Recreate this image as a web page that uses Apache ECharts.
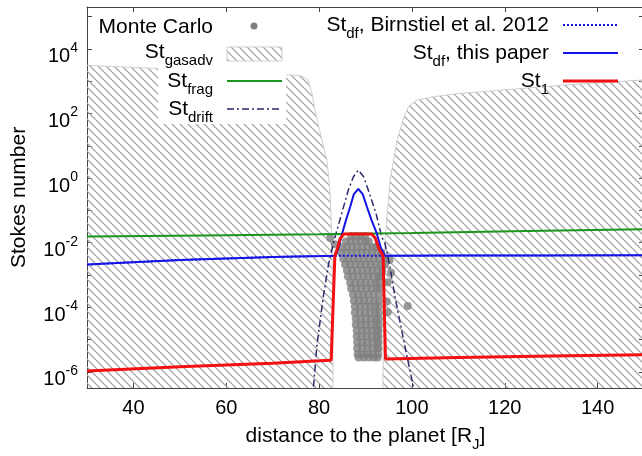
<!DOCTYPE html>
<html>
<head>
<meta charset="utf-8">
<script src="https://cdn.jsdelivr.net/npm/echarts@6/dist/echarts.min.js"></script>
<style>
  html, body { margin: 0; padding: 0; background: #fff; }
  #chart { width: 642px; height: 456px; }
</style>
</head>
<body>
<div id="chart"></div>
<script>
var FONT = '"Liberation Sans", Arial, Helvetica, sans-serif';
var Y_MIN = Math.pow(10, -6.5);
var Y_MAX = Math.pow(10, 5.3);

// ticks
var xTicks = [40, 60, 80, 100, 120, 140];
var yTicks = [1e-6, 1e-5, 1e-4, 1e-3, 1e-2, 1e-1, 1, 10, 100, 1e3, 1e4, 1e5];
var yLabels = [1e-6, 1e-4, 1e-2, 1, 100, 1e4];

// St_gasadv hatched regions (upper boundary, filled down to the axis)
var gasadvLeft = [[30, 3100], [54, 2200], [76, 1500], [77.6, 1100], [78.5, 400], [79.3, 100],
  [80.6, 15], [81.7, 3.6], [82.3, 0.5], [82.6, 0.05], [82.8, 5e-3], [83.0, 1e-5], [83.0, 3.2e-7]];
var gasadvRight = [[93.75, 3.2e-7], [93.85, 1.7e-4], [94.2, 0.012], [95.3, 0.87], [96.8, 15],
  [98.3, 80], [99.3, 170], [101, 260], [104, 320], [110, 420], [119, 525], [132, 750], [150, 1100]];

// Monte Carlo particles
var monteCarlo = [
  [86.9, 0.016], [88.0, 0.016], [89.0, 0.016], [89.9, 0.016], [82.4, 0.014], [83.4, 0.009],
  [85.8, 0.011], [86.8, 0.011], [87.9, 0.011], [89.0, 0.011], [90.0, 0.011], [90.7, 0.011],
  [84.9, 0.0074], [86.0, 0.0074], [87.1, 0.0074], [88.2, 0.0074], [89.3, 0.0074], [90.4, 0.0074], [91.5, 0.0074], [92.3, 0.0074],
  [84.8, 0.0049], [85.9, 0.0049], [87.0, 0.0049], [88.1, 0.0049], [89.2, 0.0049], [90.3, 0.0049], [91.4, 0.0049], [92.5, 0.0049], [93.4, 0.0049],
  [85.2, 0.0032], [86.3, 0.0032], [87.4, 0.0032], [88.5, 0.0032], [89.6, 0.0032], [90.7, 0.0032], [91.8, 0.0032], [92.9, 0.0032], [94.1, 0.0032], [95.2, 0.0029],
  [85.6, 0.0021], [86.7, 0.0021], [87.8, 0.0021], [88.9, 0.0021], [90.0, 0.0021], [91.1, 0.0021], [92.2, 0.0021], [93.3, 0.0021], [94.2, 0.0021],
  [86.0, 0.00137], [87.1, 0.00137], [88.2, 0.00137], [89.3, 0.00137], [90.4, 0.00137], [91.5, 0.00137], [92.6, 0.00137], [93.6, 0.00137], [95.5, 0.0012],
  [86.2, 9e-4], [87.3, 9e-4], [88.4, 9e-4], [89.5, 9e-4], [90.6, 9e-4], [91.7, 9e-4], [92.8, 9e-4], [93.1, 9e-4],
  [86.7, 5.8e-4], [87.8, 5.8e-4], [88.9, 5.8e-4], [90.0, 5.8e-4], [91.1, 5.8e-4], [92.2, 5.8e-4], [92.9, 5.8e-4], [94.8, 6e-4],
  [86.9, 3.8e-4], [88.0, 3.8e-4], [89.1, 3.8e-4], [90.2, 3.8e-4], [91.3, 3.8e-4], [92.4, 3.8e-4], [93.0, 3.8e-4],
  [87.3, 2.5e-4], [88.4, 2.5e-4], [89.5, 2.5e-4], [90.6, 2.5e-4], [91.7, 2.5e-4], [92.9, 2.5e-4],
  [87.5, 1.6e-4], [88.6, 1.6e-4], [89.7, 1.6e-4], [90.8, 1.6e-4], [91.9, 1.6e-4], [92.9, 1.6e-4], [94.6, 1.5e-4], [99.1, 1.1e-4],
  [87.7, 1.05e-4], [88.8, 1.05e-4], [89.9, 1.05e-4], [91.0, 1.05e-4], [92.1, 1.05e-4], [92.9, 1.05e-4],
  [87.7, 6.8e-5], [88.8, 6.8e-5], [89.9, 6.8e-5], [91.0, 6.8e-5], [92.1, 6.8e-5], [92.9, 6.8e-5], [94.8, 7e-5],
  [87.9, 4.4e-5], [89.0, 4.4e-5], [90.1, 4.4e-5], [91.2, 4.4e-5], [92.3, 4.4e-5], [92.9, 4.4e-5],
  [87.9, 2.9e-5], [89.0, 2.9e-5], [90.1, 2.9e-5], [91.2, 2.9e-5], [92.3, 2.9e-5], [92.9, 2.9e-5],
  [88.1, 1.9e-5], [89.2, 1.9e-5], [90.3, 1.9e-5], [91.4, 1.9e-5], [92.5, 1.9e-5], [92.8, 1.9e-5],
  [88.1, 1.25e-5], [89.2, 1.25e-5], [90.3, 1.25e-5], [91.4, 1.25e-5], [92.5, 1.25e-5], [92.8, 1.25e-5],
  [88.2, 8.1e-6], [89.3, 8.1e-6], [90.4, 8.1e-6], [91.5, 8.1e-6], [92.6, 8.1e-6], [92.8, 8.1e-6],
  [88.2, 5.3e-6], [89.3, 5.3e-6], [90.4, 5.3e-6], [91.5, 5.3e-6], [92.6, 5.3e-6], [92.8, 5.3e-6],
  [88.3, 3.5e-6], [89.4, 3.5e-6], [90.5, 3.5e-6], [91.6, 3.5e-6], [92.7, 3.5e-6],
  [88.5, 2.8e-6], [89.6, 2.8e-6], [90.7, 2.8e-6], [91.8, 2.8e-6], [92.6, 2.8e-6]
];

var stDrift = [[78.8, 3.5e-7], [79.5, 6.1e-6], [80.9, 2.1e-4], [82.0, 2e-3], [83.07, 9.5e-3], [83.44, 0.015],
  [84.88, 0.081], [86.3, 0.43], [87.4, 1.1], [88.45, 1.77], [89.6, 1.1], [90.6, 0.43], [92.26, 0.081],
  [93.5, 0.015], [94.2, 9.5e-3], [95.2, 2e-3], [96.35, 2.1e-4], [98.5, 6.1e-6], [100.3, 3.5e-7]];
var stFrag = [[30, 0.0155], [55, 0.0168], [80, 0.0182], [100, 0.020], [125, 0.023], [150, 0.026]];
var stDfBirnstiel = [[30, 2.1e-3], [40, 2.5e-3], [50, 2.9e-3], [60, 3.25e-3], [70, 3.6e-3], [80, 3.85e-3],
  [83.6, 3.95e-3], [94.2, 3.95e-3], [110, 4.0e-3], [130, 4.05e-3], [150, 4.1e-3]];
var stDfPaper = [[30, 2.1e-3], [40, 2.5e-3], [50, 2.9e-3], [60, 3.25e-3], [70, 3.6e-3], [80, 3.85e-3],
  [83.6, 3.95e-3], [84.2, 7e-3], [85.0, 0.02], [85.8, 0.05], [86.7, 0.13], [87.5, 0.32], [88.45, 0.46],
  [89.4, 0.32], [90.3, 0.13], [91.3, 0.05], [92.4, 0.02], [93.3, 7e-3], [94.2, 3.95e-3],
  [110, 4.0e-3], [130, 4.05e-3], [150, 4.1e-3]];
var st1 = [[30, 1.07e-6], [50, 1.45e-6], [70, 1.85e-6], [80.2, 2.2e-6], [82.6, 2.3e-6], [83.4, 3.9e-3],
  [84.0, 7e-3], [84.5, 1.3e-2], [85.3, 1.85e-2], [91.3, 1.85e-2], [92.1, 1.4e-2], [92.8, 7e-3],
  [93.8, 3.9e-3], [94.3, 2.5e-6], [110, 2.8e-6], [130, 3.1e-6], [150, 3.4e-6]];

function makeHatch() {
  var c = document.createElement('canvas');
  c.width = 8; c.height = 8;
  var ctx = c.getContext('2d');
  ctx.strokeStyle = '#acacac';
  ctx.lineWidth = 1.4;
  ctx.beginPath();
  [-8, 0, 8].forEach(function (k) { ctx.moveTo(k, 0); ctx.lineTo(k + 8, 8); });
  ctx.stroke();
  return c;
}
var hatch = { image: makeHatch(), repeat: 'repeat' };

var richSub = {
  m: { fontSize: 21, lineHeight: 26, verticalAlign: 'top', fontFamily: FONT, color: '#000' },
  s: { fontSize: 15, lineHeight: 15, verticalAlign: 'bottom', fontFamily: FONT, color: '#000' }
};
var axisColor = '#444';

function legendText(x, y, text) {
  return {
    type: 'text', z: 100,
    style: { x: x, y: y, text: text, rich: richSub, align: 'right', verticalAlign: 'middle', fill: '#000', fontFamily: FONT, fontSize: 21 }
  };
}
function legendLine(x1, x2, y, color, width, dash) {
  return {
    type: 'line', z: 100,
    shape: { x1: x1, y1: y, x2: x2, y2: y },
    style: { stroke: color, lineWidth: width, lineDash: dash || null }
  };
}

var chart = echarts.init(document.getElementById('chart'));
chart.setOption({
  animation: false,
  grid: { left: 87, top: 7, width: 557, height: 381, outerBoundsMode: 'none' },
  xAxis: [{
    type: 'value', min: 30, max: 150,
    axisLine: { lineStyle: { color: axisColor, width: 1 } },
    axisTick: { inside: true, length: 5, lineStyle: { color: axisColor }, customValues: xTicks },
    axisLabel: { customValues: xTicks, margin: 10, color: '#000', fontSize: 20, fontFamily: FONT },
    splitLine: { show: false },
    name: '{m|distance to the planet [R}{s|J}{m|]}',
    nameLocation: 'middle', nameGap: 38,
    nameTextStyle: { rich: richSub }
  }, {
    type: 'value', min: 30, max: 150, position: 'top',
    axisLine: { lineStyle: { color: axisColor, width: 1 } },
    axisTick: { inside: true, length: 5, lineStyle: { color: axisColor }, customValues: xTicks },
    axisLabel: { show: false },
    splitLine: { show: false }
  }],
  yAxis: [{
    type: 'log', logBase: 10, min: Y_MIN, max: Y_MAX,
    axisLine: { show: true, lineStyle: { color: axisColor, width: 1 } },
    axisTick: { show: true, inside: true, length: 5, lineStyle: { color: axisColor }, customValues: yTicks },
    axisLabel: {
      customValues: yLabels, margin: 9, padding: [10, 0, 0, 0],
      formatter: function (v) { return '{b|10}{s|' + Math.round(Math.log10(v)) + '}'; },
      rich: {
        b: { fontSize: 20, lineHeight: 26, verticalAlign: 'bottom', fontFamily: FONT, color: '#000' },
        s: { fontSize: 14, lineHeight: 14, verticalAlign: 'top', fontFamily: FONT, color: '#000' }
      }
    },
    splitLine: { show: false },
    name: 'Stokes number', nameLocation: 'middle', nameGap: 57,
    nameTextStyle: { fontSize: 21, fontFamily: FONT, color: '#000' }
  }, {
    type: 'log', logBase: 10, min: Y_MIN, max: Y_MAX, position: 'right',
    axisLine: { show: true, lineStyle: { color: axisColor, width: 1 } },
    axisTick: { show: true, inside: true, length: 5, lineStyle: { color: axisColor }, customValues: yTicks },
    axisLabel: { show: false },
    splitLine: { show: false }
  }],
  series: [{
    name: 'St_gasadv left', type: 'line', data: gasadvLeft, showSymbol: false, silent: true, z: 1,
    lineStyle: { color: '#cfcfcf', width: 1 },
    areaStyle: { color: hatch, opacity: 1, origin: 'start' }
  }, {
    name: 'St_gasadv right', type: 'line', data: gasadvRight, showSymbol: false, silent: true, z: 1,
    lineStyle: { color: '#cfcfcf', width: 1 },
    areaStyle: { color: hatch, opacity: 1, origin: 'start' }
  }, {
    name: 'Monte Carlo', type: 'scatter', data: monteCarlo, symbolSize: 8, z: 3,
    itemStyle: { color: '#808080' }
  }, {
    name: 'St_drift', type: 'line', data: stDrift, showSymbol: false, z: 4,
    lineStyle: { color: '#2a2a6c', width: 1.5, type: [7, 3, 2, 3] }
  }, {
    name: 'St_frag', type: 'line', data: stFrag, showSymbol: false, z: 4,
    lineStyle: { color: '#1d961d', width: 2 }
  }, {
    name: 'St_df Birnstiel', type: 'line', data: stDfBirnstiel, showSymbol: false, z: 5,
    lineStyle: { color: '#1414e6', width: 2, type: [2, 2] }
  }, {
    name: 'St_df this paper', type: 'line', data: stDfPaper, showSymbol: false, z: 5,
    lineStyle: { color: '#1414e6', width: 2 }
  }, {
    name: 'St_1', type: 'line', data: st1, showSymbol: false, z: 6,
    lineStyle: { color: '#f21010', width: 3 }
  }],
  graphic: [
    { type: 'rect', z: 90, shape: { x: 158, y: 64, width: 128, height: 60 }, style: { fill: '#fff' } },
    legendText(213, 30, '{m|Monte Carlo}'),
    { type: 'circle', z: 100, shape: { cx: 254, cy: 26, r: 3.5 }, style: { fill: '#808080' } },
    legendText(213, 55, '{m|St}{s|gasadv}'),
    { type: 'rect', z: 100, shape: { x: 227, y: 47, width: 55, height: 14 }, style: { fill: hatch, stroke: '#cfcfcf', lineWidth: 1 } },
    legendText(213, 84, '{m|St}{s|frag}'),
    legendLine(227, 282, 81, '#1d961d', 2),
    legendText(213, 112, '{m|St}{s|drift}'),
    legendLine(227, 282, 109, '#2a2a6c', 1.5, [7, 3, 2, 3]),
    legendText(549, 28, '{m|St}{s|df}{m|, Birnstiel et al. 2012}'),
    legendLine(563, 618, 25, '#1414e6', 2, [2, 2]),
    legendText(549, 56, '{m|St}{s|df}{m|, this paper}'),
    legendLine(563, 618, 53, '#1414e6', 2),
    legendText(549, 84, '{m|St}{s|1}'),
    legendLine(563, 618, 81, '#f21010', 3)
  ]
});
</script>
</body>
</html>
